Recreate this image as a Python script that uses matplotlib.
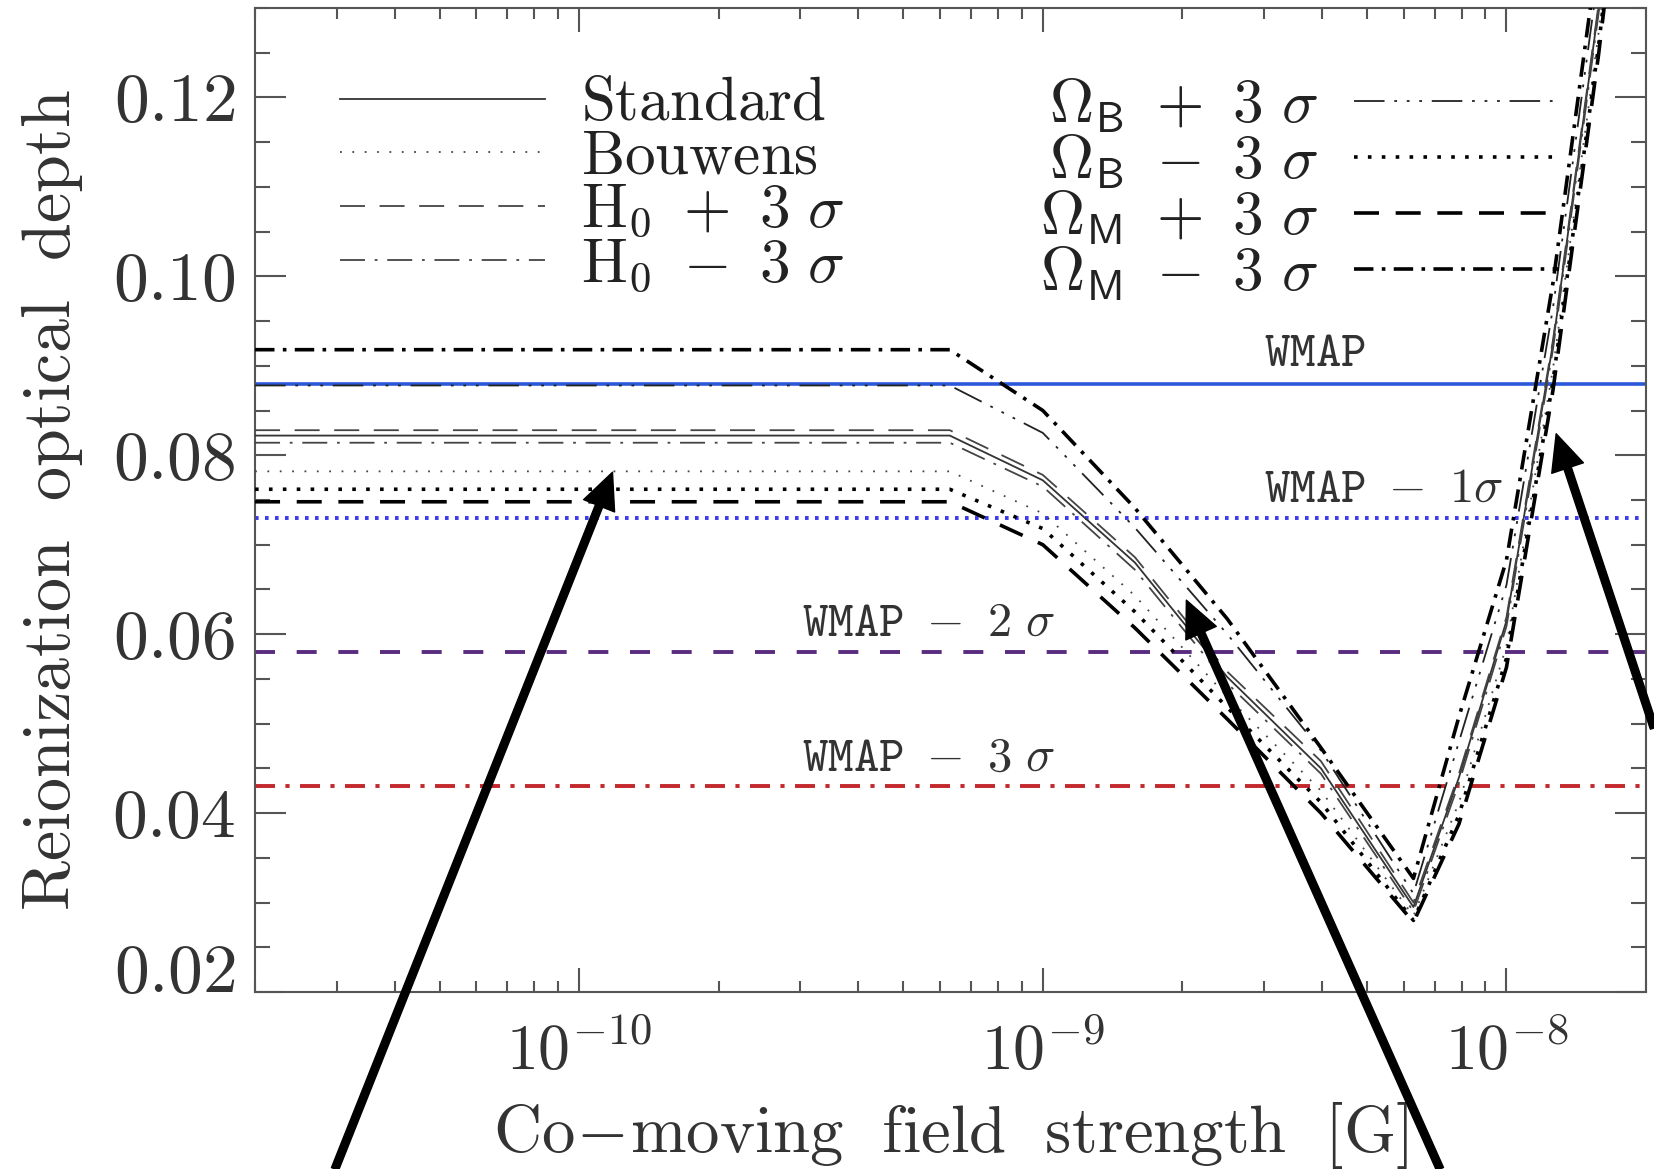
import matplotlib

matplotlib.use("Agg")
import matplotlib.pyplot as plt
from matplotlib.ticker import FixedLocator, LogLocator, MultipleLocator, NullFormatter, StrMethodFormatter

plt.rcParams["mathtext.fontset"] = "cm"
plt.rcParams["font.family"] = "serif"
plt.rcParams["font.serif"] = ["cmr10", "DejaVu Serif"]
plt.rcParams["axes.formatter.use_mathtext"] = True
plt.rcParams["lines.scale_dashes"] = False

# co-moving field strength grid [G]
field = [2e-11, 6.3e-10, 1.0e-9, 1.58e-9, 2.5e-9, 3.98e-9, 6.3e-9,
         7.9e-9, 1.0e-8, 1.26e-8, 1.58e-8, 2.0e-8]

# reionization optical depth for each model
tau_standard = [0.0822, 0.0822, 0.0772, 0.0680, 0.0552, 0.0450, 0.0295,
                0.0440, 0.0615, 0.0925, 0.1300, 0.1750]
tau_bouwens = [0.0782, 0.0782, 0.0735, 0.0643, 0.0530, 0.0425, 0.0285,
               0.0412, 0.0587, 0.0897, 0.1272, 0.1722]
tau_h0_plus = [0.0828, 0.0828, 0.0778, 0.0686, 0.0558, 0.0458, 0.0300,
               0.0444, 0.0619, 0.0929, 0.1304, 0.1754]
tau_h0_minus = [0.0814, 0.0814, 0.0765, 0.0672, 0.0545, 0.0444, 0.0290,
                0.0434, 0.0609, 0.0919, 0.1294, 0.1744]
tau_ob_plus = [0.0878, 0.0878, 0.0825, 0.0719, 0.0600, 0.0470, 0.0310,
               0.0480, 0.0655, 0.0965, 0.1340, 0.1790]
tau_ob_minus = [0.0762, 0.0762, 0.0718, 0.0625, 0.0518, 0.0412, 0.0280,
                0.0398, 0.0573, 0.0883, 0.1258, 0.1708]
tau_om_plus = [0.0748, 0.0748, 0.0700, 0.0607, 0.0505, 0.0400, 0.0278,
               0.0388, 0.0563, 0.0873, 0.1248, 0.1698]
tau_om_minus = [0.0918, 0.0918, 0.0850, 0.0741, 0.0617, 0.0473, 0.0327,
                0.0508, 0.0683, 0.0993, 0.1368, 0.1818]

model_labels = [
    r"$\mathrm{Standard}$",
    r"$\mathrm{Bouwens}$",
    r"$\mathrm{H}_\mathsf{0}\ +\ 3\ \sigma$",
    r"$\mathrm{H}_\mathsf{0}\ -\ 3\ \sigma$",
    r"$\Omega_\mathsf{B}\ +\ 3\ \sigma$",
    r"$\Omega_\mathsf{B}\ -\ 3\ \sigma$",
    r"$\Omega_\mathsf{M}\ +\ 3\ \sigma$",
    r"$\Omega_\mathsf{M}\ -\ 3\ \sigma$",
]

# WMAP constraint and its lower bounds
wmap_levels = [0.088, 0.073, 0.058, 0.043]
wmap_labels = [
    r"$\mathtt{WMAP}$",
    r"$\mathtt{WMAP}\ -\ 1\sigma$",
    r"$\mathtt{WMAP}\ -\ 2\ \sigma$",
    r"$\mathtt{WMAP}\ -\ 3\ \sigma$",
]

y_ticks = [0.02, 0.04, 0.06, 0.08, 0.10, 0.12]

# arrows: tip in data coordinates
arrow_tips = [(1.18e-10, 0.0781), (2.04e-9, 0.0638), (1.28e-8, 0.0824)]


def main():
    fig = plt.figure(figsize=(16.54, 11.69), dpi=100)
    ax = fig.add_axes([0.1542, 0.1514, 0.8410, 0.8418])

    # WMAP horizontal lines
    wmap_colors = ["#2b58d8", "#3a3aee", "#5a2c80", "#c2282c"]
    wmap_styles = ["-", (0, (2.6, 4.6)), (0, (14.4, 15.6)), (0, (14.4, 7.5, 3, 7.5))]
    wmap_widths = [2.6, 2.8, 2.8, 2.8]
    for level, col, ls, lw in zip(wmap_levels, wmap_colors, wmap_styles, wmap_widths):
        ax.axhline(level, color=col, ls=ls, lw=lw, zorder=1)

    text_pos = [(3.0e-9, 0.0913), (3.0e-9, 0.0762), (3.03e-10, 0.0612), (3.03e-10, 0.0461)]
    for (x, y), label in zip(text_pos, wmap_labels):
        ax.text(x, y, label, fontsize=35, color="#333333", ha="left", va="center")

    # model curves
    curves = [
        (tau_standard, "-", 1.3, "#333333"),
        (tau_bouwens, (0, (1.3, 7.6)), 1.3, "#444444"),
        (tau_h0_plus, (0, (18, 10.5)), 1.3, "#444444"),
        (tau_h0_minus, (0, (18, 7, 2, 7)), 1.3, "#444444"),
        (tau_ob_plus, (0, (22, 7, 2, 7, 2, 7, 2, 7)), 1.3, "#222222"),
        (tau_ob_minus, (0, (2.6, 7.4)), 2.6, "black"),
        (tau_om_plus, (0, (18, 12)), 2.6, "black"),
        (tau_om_minus, (0, (14, 6, 2.6, 6)), 2.6, "black"),
    ]
    handles = []
    for tau, ls, lw, col in curves:
        (line,) = ax.plot(field, tau, ls=ls, lw=lw, color=col, zorder=3)
        handles.append(line)

    ax.set_xscale("log")
    ax.set_xlim(2e-11, 2e-8)
    ax.set_ylim(0.02, 0.13)

    ax.yaxis.set_major_locator(FixedLocator(y_ticks))
    ax.yaxis.set_minor_locator(MultipleLocator(0.005))
    ax.yaxis.set_major_formatter(StrMethodFormatter("${x:.2f}$"))
    ax.xaxis.set_major_locator(LogLocator(base=10, numticks=10))
    ax.xaxis.set_minor_locator(LogLocator(base=10, subs=range(2, 10), numticks=40))
    ax.xaxis.set_minor_formatter(NullFormatter())

    ax.tick_params(which="both", direction="in", top=True, right=True,
                   color="#555555", width=1.5, labelcolor="#333333")
    ax.tick_params(axis="y", which="major", length=22, pad=14, labelsize=50)
    ax.tick_params(axis="y", which="minor", length=11)
    ax.tick_params(axis="x", which="major", length=17, pad=22, labelsize=46)
    ax.tick_params(axis="x", which="minor", length=8)
    for spine in ax.spines.values():
        spine.set_color("#555555")
        spine.set_linewidth(1.5)

    # the bottom y label sits a little above its tick, as in the original
    ax.yaxis.get_major_ticks()[0].label1.set_verticalalignment("baseline")

    ax.set_xlabel(r"$\mathrm{Co\!-\!moving\ \ field\ \ strength\ \ [G]}$",
                  fontsize=48, color="#333333", labelpad=12)
    ax.set_ylabel(r"$\mathrm{Reionization\ \ optical\ \ depth}$",
                  fontsize=49, color="#333333", labelpad=20)

    leg_kw = dict(frameon=False, fontsize=44, handlelength=3.35, handletextpad=0.6,
                  labelspacing=-0.04, borderpad=0, borderaxespad=0, labelcolor="#222222")
    leg1 = ax.legend(handles[:4], model_labels[:4], loc="upper left",
                     bbox_to_anchor=(0.061, 0.93), **leg_kw)
    ax.add_artist(leg1)
    ax.legend(handles[4:], model_labels[4:], loc="upper right",
              bbox_to_anchor=(0.9375, 0.93), markerfirst=False, **leg_kw)

    # thick annotation arrows coming from outside the plot
    arrow_tails = [(335, 0), (1440, 0), (1654, 441)]
    for tip, tail in zip(arrow_tips, arrow_tails):
        ax.annotate("", xy=tip, xycoords="data", xytext=tail, textcoords="figure pixels",
                    arrowprops=dict(facecolor="black", edgecolor="black", width=5.5,
                                    headwidth=24, headlength=26, shrink=0),
                    annotation_clip=False, zorder=10)

    fig.savefig("out.png", dpi=100)


if __name__ == "__main__":
    main()
